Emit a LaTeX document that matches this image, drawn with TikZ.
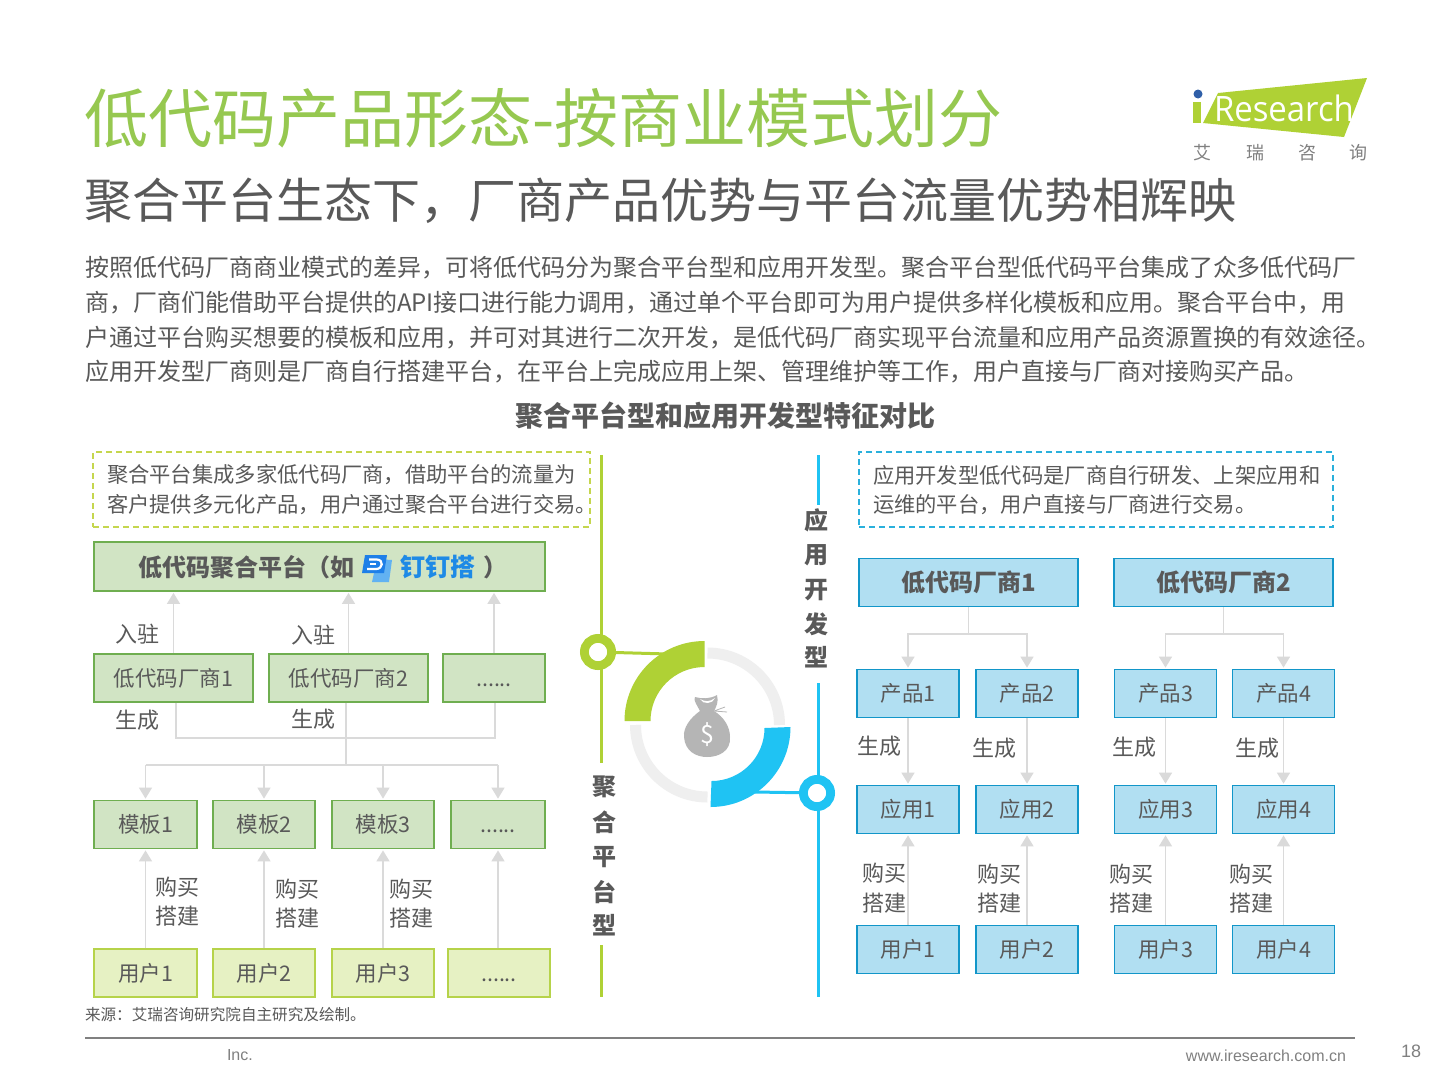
\documentclass[tikz,border=0pt]{standalone}
\usepackage{fontspec}
\setmainfont{Noto Sans CJK SC}
\newfontfamily\latinf{Liberation Sans}
\newfontfamily\logof{Open Sans}
\usetikzlibrary{arrows.meta}
\definecolor{tgreen}{HTML}{96C850}
\definecolor{tgray}{HTML}{595959}
\definecolor{lime}{HTML}{AFD135}
\definecolor{sky}{HTML}{1FC3F3}
\definecolor{gfill}{HTML}{D1E4C4}
\definecolor{gline}{HTML}{6FAE50}
\definecolor{yfill}{HTML}{E6F1C3}
\definecolor{yline}{HTML}{B6D34A}
\definecolor{dashy}{HTML}{C5D64E}
\definecolor{dashb}{HTML}{2AB0DC}
\definecolor{bfill}{HTML}{B1DFF2}
\definecolor{bline}{HTML}{1296C9}
\definecolor{conn}{HTML}{DADADA}
\definecolor{ringg}{HTML}{EFEFEF}
\definecolor{bagg}{HTML}{B5B5B5}
\definecolor{icond}{HTML}{1E7FE8}
\definecolor{iconl}{HTML}{62B2F2}
\definecolor{logodot}{HTML}{2F5FA8}
\newcounter{lb}
\newcommand{\lbl}[4][]{\stepcounter{lb}\node[txt,#1] (lb\thelb) at (#2,#3) {#4};}
\newcommand{\fs}[1]{\fontsize{#1}{#1}\selectfont}
\newcommand{\dotsl}{\vphantom{低}......}
\newcommand{\cma}{\symbol{"FF0C}}
\newcommand{\cln}{\symbol{"FF1A}}
\newcommand{\lpr}{\symbol{"FF08}}
\newcommand{\rpr}{\symbol{"FF09}}
\tikzset{
  txt/.style={inner sep=0pt,outer sep=0pt,text=tgray,font=\fs{22}},
  lft/.style={txt,anchor=west},
  boxg/.style={draw=gline,fill=gfill,line width=1.8pt,inner sep=0pt,text=tgray,font=\fs{21.5},minimum height=48pt},
  boxy/.style={draw=yline,fill=yfill,line width=1.2pt,inner sep=0pt,text=tgray,font=\fs{21.5},minimum height=48pt},
  boxb/.style={draw=bline,fill=bfill,line width=1.8pt,inner sep=0pt,text=tgray,font=\fs{21.5},minimum height=48pt},
  boxbt/.style={boxb,font=\fs{24}\bfseries,minimum width=219pt},
  arr/.style={draw=conn,line width=1.4pt,shorten >=1pt,-{Triangle[length=11pt,width=13pt]}},
  lin/.style={draw=conn,line width=1.4pt},
  vlab/.style={txt,font=\fs{24}\bfseries},
  dbox/.style={dash pattern=on 6pt off 4pt,line width=1.3pt,minimum height=75pt,inner sep=0pt},
}
\begin{document}
\begin{tikzpicture}[x=1pt,y=-1pt]
\useasboundingbox (0,0) rectangle (1440,1080);
\fill[white] (0,0) rectangle (1440,1080);
% titles
\lbl[lft,text=tgreen,font=\fs{64}]{84}{118}{低代码产品形态-按商业模式划分}
\lbl[lft,font=\fs{48}]{84}{201}{聚合平台生态下\cma 厂商产品优势与平台流量优势相辉映}
\lbl[lft,font=\fs{24}]{85}{268}{按照低代码厂商商业模式的差异\cma 可将低代码分为聚合平台型和应用开发型。聚合平台型低代码平台集成了众多低代码厂}
\lbl[lft,font=\fs{24}]{85}{303}{商\cma 厂商们能借助平台提供的API接口进行能力调用\cma 通过单个平台即可为用户提供多样化模板和应用。聚合平台中\cma 用}
\lbl[lft,font=\fs{24}]{85}{338}{户通过平台购买想要的模板和应用\cma 并可对其进行二次开发\cma 是低代码厂商实现平台流量和应用产品资源置换的有效途径。}
\lbl[lft,font=\fs{24}]{85}{372}{应用开发型厂商则是厂商自行搭建平台\cma 在平台上完成应用上架、管理维护等工作\cma 用户直接与厂商对接购买产品。}
\lbl[font=\fs{28}\bfseries,text=tgray]{725}{416}{聚合平台型和应用开发型特征对比}
% logo
\fill[lime] (1218,93) -- (1367,78) -- (1344,137) -- (1203,123) -- cycle;
\fill[lime] (1193,102) -- (1201,102) -- (1201,123) -- (1193,123) -- cycle;
\fill[logodot] (1198,94) circle (4.5);
\lbl[lft,text=white,font=\logof\fs{35}]{1214}{108}{\scalebox{.94}[1]{Research}}
\foreach \x/\c in {1202/艾,1255/瑞,1307/咨,1358/询}{\lbl[font=\fs{18},text=gray]{\x}{153}{\c}}
% dashed boxes
\node[draw=dashy,dbox,minimum width=497pt] (dl) at (341.5,489.5) {};
\node[draw=dashb,dbox,minimum width=474pt] (dr) at (1096,489.5) {};
\lbl[lft,font=\fs{21.3}]{107}{475}{聚合平台集成多家低代码厂商\cma 借助平台的流量为}
\lbl[lft,font=\fs{21.3}]{107}{505}{客户提供多元化产品\cma 用户通过聚合平台进行交易。}
\lbl[lft,font=\fs{21.3}]{873}{475}{应用开发型低代码是厂商自行研发、上架应用和}
\lbl[lft,font=\fs{21.3}]{873}{505}{运维的平台\cma 用户直接与厂商进行交易。}
% left boxes
\node[boxg,minimum width=451pt,minimum height=49pt,font=\fs{24}\bfseries] (pf) at (319.5,566.5) {\raisebox{-10pt}[10pt][10pt]{\hbox to 363pt{低代码聚合平台\lpr 如\hspace{46pt}\textcolor[HTML]{1E8AE6}{\fs{25}钉钉搭}\hspace{8pt}\rpr\hss}}};
\node[boxg,minimum width=159pt] (v1) at (173.5,678) {低代码厂商1};
\node[boxg,minimum width=159pt] (v2) at (348.5,678) {低代码厂商2};
\node[boxg,minimum width=102pt] (v3) at (494,678) {\dotsl};
\node[boxg,minimum width=103pt] (t1) at (145.5,824.5) {模板1};
\node[boxg,minimum width=102pt] (t2) at (264,824.5) {模板2};
\node[boxg,minimum width=102pt] (t3) at (383,824.5) {模板3};
\node[boxg,minimum width=94pt] (t4) at (498,824.5) {\dotsl};
\node[boxy,minimum width=103pt] (u1) at (145.5,973) {用户1};
\node[boxy,minimum width=102pt] (u2) at (264,973) {用户2};
\node[boxy,minimum width=102pt] (u3) at (383,973) {用户3};
\node[boxy,minimum width=102pt] (u4) at (499,973) {\dotsl};
% dingtalk icon
\fill[iconl] (376,559) -- (392,560) -- (389,582) -- (372,582) -- (374,573) -- cycle;
\fill[icond] (365,555) -- (387,555) -- (384,573) -- (362,573) -- cycle;
\draw[white,line width=2.2pt] (369,559.5) -- (377,559.5) .. controls (384,560) and (383,569) .. (376,569) -- (367,569);
\draw[white,line width=2.2pt] (370,564) -- (376,564);
% left connectors
\draw[arr] (v1.north) -- (v1.north |- pf.south);
\draw[arr] (v2.north) -- (v2.north |- pf.south);
\draw[arr] (v3.north) -- (v3.north |- pf.south);
\coordinate (bl) at (176,738);
\coordinate (br) at (495,738);
\coordinate (bm) at (346,738);
\coordinate (hb) at (346,765);
\draw[lin] (bl |- v1.south) -- (bl) -- (br) -- (br |- v3.south);
\draw[lin] (bm |- v2.south) -- (hb);
\foreach \t in {t1,t2,t3,t4}{\draw[arr] (hb -| \t.north) -- (\t.north);}
\draw[lin] (hb -| t1.north) -- (hb -| t4.north);
\foreach \u/\t in {u1/t1,u2/t2,u3/t3,u4/t4}{\draw[arr] (\u.north -| \t.south) -- (\t.south);}
% left labels
\lbl{137}{634}{入驻}\lbl{313}{635}{入驻}\lbl{137}{720}{生成}\lbl{313}{719}{生成}
\lbl{177}{887}{购买}\lbl{177}{916}{搭建}\lbl{297}{889}{购买}\lbl{297}{918}{搭建}\lbl{411}{889}{购买}\lbl{411}{918}{搭建}
% right boxes
\node[boxbt] (m1) at (968.5,582.5) {低代码厂商1};
\node[boxbt] (m2) at (1223.5,582.5) {低代码厂商2};
\foreach \n/\x/\lab in {1/908/1,2/1027/2,3/1165.5/3,4/1283.5/4}{
  \node[boxb,minimum width=102pt] (p\n) at (\x,693.5) {产品\lab};
  \node[boxb,minimum width=102pt] (a\n) at (\x,809.5) {应用\lab};
  \node[boxb,minimum width=102pt] (c\n) at (\x,949.5) {用户\lab};
  \draw[arr] (p\n.south) -- (a\n.north);
  \draw[arr] (c\n.north) -- (a\n.south);
}
\coordinate (j1) at (968.5,634);
\coordinate (j2) at (1223.5,634);
\draw[lin] (m1.south) -- (j1);
\draw[lin] (m2.south) -- (j2);
\draw[arr] (j1) -- (j1 -| p1.north) -- (p1.north);
\draw[arr] (j1) -- (j1 -| p2.north) -- (p2.north);
\draw[arr] (j2) -- (j2 -| p3.north) -- (p3.north);
\draw[arr] (j2) -- (j2 -| p4.north) -- (p4.north);
% right labels
\lbl{879}{746}{生成}\lbl{994}{748}{生成}\lbl{1134}{747}{生成}\lbl{1257}{748}{生成}
\lbl{884}{873}{购买}\lbl{884}{903}{搭建}\lbl{999}{874}{购买}\lbl{999}{903}{搭建}\lbl{1131}{874}{购买}\lbl{1131}{903}{搭建}\lbl{1251}{874}{购买}\lbl{1251}{903}{搭建}
% centre rails
\coordinate (ga) at (601,455); \coordinate (gb) at (601,763);
\coordinate (gc) at (601,945); \coordinate (gd) at (601,997);
\coordinate (ba) at (818,455); \coordinate (bb) at (818,505);
\coordinate (bc) at (818,683); \coordinate (bd) at (818,997);
\draw[lime,line width=3pt] (ga) -- (gb) (gc) -- (gd);
\draw[sky,line width=3pt] (ba) -- (bb) (bc) -- (bd);
\foreach \y/\c in {787/聚,822/合,857/平,892/台,925/型}{\lbl[vlab]{604}{\y}{\c}}
\foreach \y/\c in {520/应,555/用,590/开,624/发,657/型}{\lbl[vlab]{816}{\y}{\c}}
% ring
\draw[ringg,line width=11pt] (707.5,653) arc[start angle=270,end angle=360,radius=72];
\draw[ringg,line width=11pt] (635.5,725) arc[start angle=180,end angle=90,radius=72];
\node[circle,draw=lime,fill=white,line width=9pt,minimum size=27pt,inner sep=0pt,outer sep=0pt] (gcirc) at (598,652) {};
\node[circle,draw=sky,fill=white,line width=9pt,minimum size=27pt,inner sep=0pt,outer sep=0pt] (bcirc) at (817,793) {};
\coordinate (gs) at (668,654);
\coordinate (bs) at (755,792);
\draw[lime,line width=3pt] (gcirc) -- (gs);
\draw[sky,line width=3pt] (bcirc) -- (bs);
\node[circle,fill=white,minimum size=18pt,inner sep=0pt] (gh) at (gcirc) {};
\node[circle,fill=white,minimum size=18pt,inner sep=0pt] (bh) at (bcirc) {};
\fill[lime] (624.5,721) arc[start angle=180,end angle=270,radius=80] -- (704.5,667) arc[start angle=270,end angle=180,radius=54] -- cycle;
\fill[sky] (790.5,727) arc[start angle=0,end angle=90,radius=80] -- (711.5,781) arc[start angle=90,end angle=0,radius=53] -- cycle;
% money bag
\fill[bagg] (700,711) .. controls (690,718) and (683,728) .. (684,737) .. controls (685,751) and (696,757) .. (707,757) .. controls (719,757) and (731,751) .. (730,737) .. controls (730,727) and (724,717) .. (714,711) .. controls (716,707) and (719,702) .. (717,695) .. controls (710,699) and (702,699) .. (695,697) .. controls (693,700) and (697,705) .. (700,711) -- cycle;
\fill[white] (700,699) .. controls (705,702) and (710,702) .. (715,698) .. controls (713,704) and (703,705) .. (700,699) -- cycle;
\draw[bagg,line width=0.8pt] (714,711) -- (725,707) (714,711) -- (727,712);
\lbl[text=white,font=\fs{25}]{707}{735}{\$}
% footer
\lbl[lft,font=\fs{15.6}]{85}{1015}{来源\cln 艾瑞咨询研究院自主研究及绘制。}
\coordinate (fa) at (85,1038); \coordinate (fb) at (1355,1038);
\draw[gray,line width=1.2pt] (fa) -- (fb);
\lbl[lft,font=\latinf\fs{16},text=gray]{227}{1055}{Inc.}
\lbl[anchor=east,font=\latinf\fs{16},text=gray]{1346}{1056}{www.iresearch.com.cn}
\lbl[font=\latinf\fs{18},text=gray]{1411}{1051}{18}
\end{tikzpicture}
\end{document}
